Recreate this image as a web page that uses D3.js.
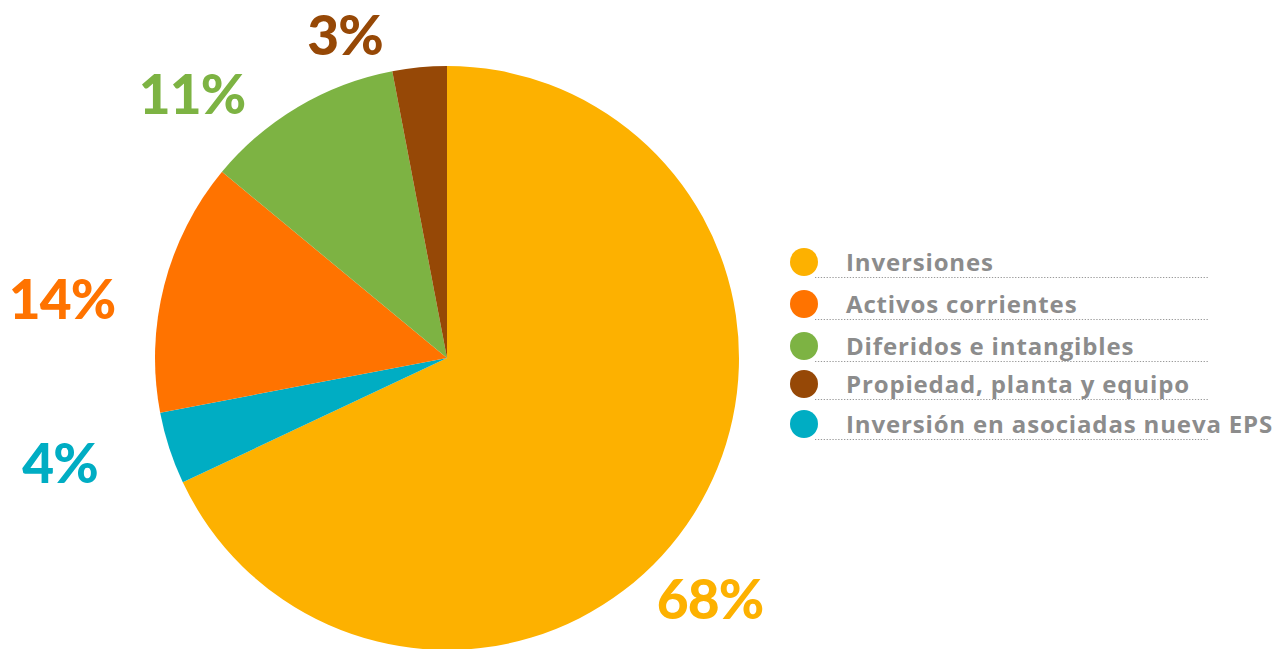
<!DOCTYPE html>
<html>
<head>
<meta charset="utf-8">
<script src="https://cdn.jsdelivr.net/npm/d3@7"></script>
<style>
  body { margin: 0; background: #fff; }
  svg { display: block; }
</style>
</head>
<body>
<script>
// slice data, in drawing order (clockwise from 12 o'clock)
const slices = ["Inversiones", "Inversión en asociadas nueva EPS", "Activos corrientes", "Diferidos e intangibles", "Propiedad, planta y equipo"];
const values = [68, 4, 14, 11, 3];
const colors = ["#FDB100", "#00ADC3", "#FF7300", "#7DB343", "#964806"];
// legend order
const legendItems = ["Inversiones", "Activos corrientes", "Diferidos e intangibles", "Propiedad, planta y equipo", "Inversión en asociadas nueva EPS"];

const W = 1286, H = 649;
const cx = 447, cy = 358, radius = 292;

// where each percentage label sits (same order as slices)
const labelPos = [[710, 598], [60, 462], [62, 298], [192, 93], [345, 34]];

const svg = d3.select("body").append("svg")
  .attr("width", W)
  .attr("height", H);

const pie = d3.pie().sort(null).value(d => d)(values);
const arc = d3.arc().innerRadius(0).outerRadius(radius);

const g = svg.append("g").attr("transform", "translate(" + cx + "," + cy + ")");
g.selectAll("path").data(pie)
  .enter()
  .append("path")
    .attr("d", arc)
    .attr("fill", (d, i) => colors[i]);

// big percentage labels
svg.selectAll(".pct").data(pie)
  .enter()
  .append("text")
    .attr("class", "pct")
    .attr("x", (d, i) => labelPos[i][0])
    .attr("y", (d, i) => labelPos[i][1])
    .attr("text-anchor", "middle")
    .attr("dominant-baseline", "central")
    .style("font-family", "Lato, 'Open Sans', sans-serif")
    .style("font-weight", 900)
    .style("font-size", "55px")
    .style("letter-spacing", "-1px")
    .attr("fill", (d, i) => colors[i])
    .text(d => d.value + "%");

// legend
const legY = d3.scaleOrdinal().domain(legendItems).range([262, 304, 346, 384, 424]);
const colorOf = d3.scaleOrdinal().domain(slices).range(colors);

const leg = svg.append("g");
legendItems.forEach(name => {
  const y = legY(name);
  leg.append("line")
    .attr("x1", 815).attr("x2", 1208)
    .attr("y1", y + 15.5).attr("y2", y + 15.5)
    .attr("stroke", "#9a9a9a")
    .attr("stroke-width", 1.2)
    .attr("stroke-dasharray", "1.3,1.6");
  leg.append("circle")
    .attr("cx", 804).attr("cy", y)
    .attr("r", 14)
    .attr("fill", colorOf(name));
  leg.append("text")
    .attr("x", 846).attr("y", y + 8.5)
    .style("font-family", "'Open Sans', sans-serif")
    .style("font-weight", 700)
    .style("font-size", "24px")
    .style("letter-spacing", "0.85px")
    .attr("fill", "#8c8c8c")
    .text(name);
});
</script>
</body>
</html>
